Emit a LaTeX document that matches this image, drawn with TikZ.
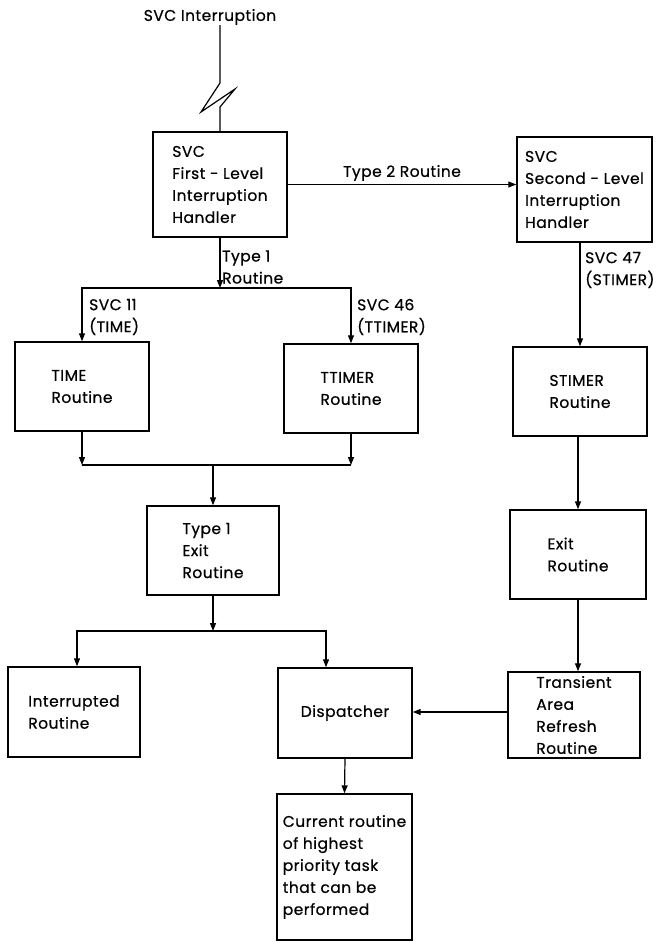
\documentclass[tikz,border=0pt]{standalone}
\usepackage{fontspec}
\setmainfont{Poppins}[LetterSpace=3,FakeBold=0.6]
\usetikzlibrary{arrows.meta}
\begin{document}
\begin{tikzpicture}[x=1pt,y=-1pt,
  every node/.style={font=\fontsize{15.5}{22}\selectfont},
  box/.style={draw,line width=1.4pt,inner sep=0pt,align=left},
  lbl/.style={inner sep=0pt,align=left,anchor=west},
  conn/.style={line width=1.2pt},
  arr/.style={conn,-{Triangle[length=8pt,width=6pt]}}]
\useasboundingbox (0,0) rectangle (657,942);
% title
\node[inner sep=0pt] (title) at (210,17) {SVC Interruption};
% boxes
\node[box,minimum width=134pt,minimum height=105pt] (box1) at (220,184.5) {SVC\\First - Level\\Interruption\\Handler};
\node[box,minimum width=135pt,minimum height=105pt] (box2) at (584.5,189.5) {SVC\\Second - Level\\Interruption\\Handler};
\node[box,minimum width=134pt,minimum height=89pt] (time) at (82,386.5) {TIME\\Routine};
\node[box,minimum width=134pt,minimum height=89pt] (ttimer) at (351,388.5) {TTIMER\\Routine};
\node[box,minimum width=134pt,minimum height=89pt] (stimer) at (580,391.5) {STIMER\\Routine};
\node[box,minimum width=132pt,minimum height=89pt] (exit1) at (213,550.5) {Type 1\\Exit\\Routine};
\node[box,minimum width=136pt,minimum height=89pt] (exit2) at (578,554.5) {Exit\\Routine};
\node[box,minimum width=132pt,minimum height=90pt] (interr) at (74,712) {Interrupted\\Routine};
\node[box,minimum width=134pt,minimum height=90pt] (disp) at (345,713) {Dispatcher};
\node[box,minimum width=132pt,minimum height=86pt] (trans) at (574,715) {Transient\\Area\\Refresh\\Routine};
\node[box,minimum width=135pt,minimum height=146pt] (current) at (344.5,867) {Current routine\\of highest\\priority task\\that can be\\performed};
% junctions
\coordinate (j1) at (220,288);
\coordinate (j2) at (213,465);
\coordinate (j3) at (213,631);
% lightning line
\draw[conn] (title.south -| box1.north) -- (220,83) -- (201,112) -- (235,89) -- (220,107) -- (box1.north);
% type 2
\draw[arr] (box1.east) -- node[above=3pt,inner sep=0pt] (lt2) {Type 2 Routine} (box1.east -| box2.west);
% type 1
\draw[arr] (box1.south) -- (j1);
\node[lbl] (lt1) at (222,267) {Type 1\\Routine};
\draw[arr] (j1) -| (time.north);
\draw[arr] (j1) -| (ttimer.north);
\node[lbl] (l11) at (89,317) {SVC 11\\(TIME)};
\node[lbl] (l46) at (357,317) {SVC 46\\(TTIMER)};
% to exit 1
\draw[arr] (time.south) -- (time.south |- j2);
\draw[arr] (ttimer.south) -- (ttimer.south |- j2);
\draw[conn] (time.south |- j2) -- (ttimer.south |- j2);
\draw[arr] (j2) -- (exit1.north);
% from exit 1
\draw[arr] (exit1.south) -- (j3);
\draw[arr] (j3) -| ([xshift=3pt]interr.north);
\draw[arr] (j3) -| ([xshift=-19pt]disp.north);
% right column
\draw[arr] (stimer.north |- box2.south) -- (stimer.north);
\node[lbl] (l47) at (585,270) {SVC 47\\(STIMER)};
\draw[arr] (exit2.north |- stimer.south) -- (exit2.north);
\draw[arr] (exit2.south) -- (exit2.south |- trans.north);
\draw[arr] ([yshift=3pt]trans.west) -- ([yshift=3pt]trans.west -| disp.east);
\draw[arr] (disp.south) -- (current.north);
\end{tikzpicture}
\end{document}
